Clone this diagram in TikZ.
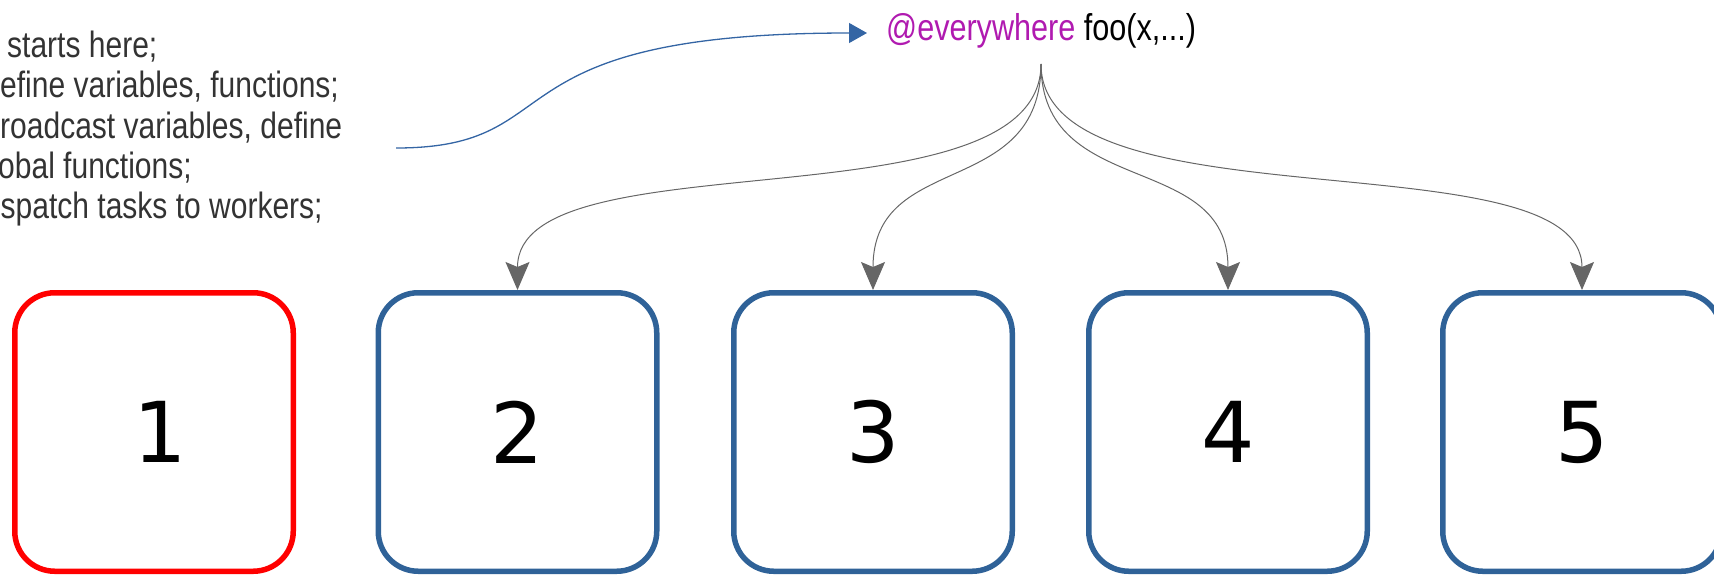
\documentclass[tikz,border=0pt]{standalone}
\usepackage{fontspec}
\usetikzlibrary{arrows.meta}
\newfontfamily\narrowsans[FakeStretch=0.82]{Liberation Sans}
\newfontfamily\digitsans{DejaVu Sans}
\definecolor{boxblue}{HTML}{2F6298}
\definecolor{lineblue}{HTML}{3465A4}
\definecolor{boxred}{HTML}{FF0000}
\definecolor{notegray}{HTML}{333333}
\definecolor{macrocol}{HTML}{B01AB0}
\definecolor{forkgray}{HTML}{666666}
\tikzset{
  worker/.style={rectangle, rounded corners=40pt, minimum width=278.5pt,
    minimum height=278.5pt, line width=5.5pt, inner sep=0pt, draw=boxblue,
    font=\digitsans\fontsize{84}{92}\selectfont},
  note/.style={anchor=base west, inner sep=0pt, text=notegray,
    font=\narrowsans\fontsize{36.6}{41}\selectfont},
  call/.style={anchor=base west, inner sep=0pt,
    font=\narrowsans\fontsize{37.3}{41}\selectfont},
  feed/.style={draw=lineblue, line width=1.3pt,
    -{Triangle[length=18pt,width=20pt]}, fill=none},
  spread/.style={draw=forkgray, line width=1pt,
    -{Stealth[length=28pt,width=24pt,inset=5pt]}}
}
\begin{document}
\begin{tikzpicture}[x=1pt,y=-1pt]
\useasboundingbox (0,0) rectangle (1714,574);

% notes on the master process
\node[note] (l1) at (7,57)   {starts here;};
\node[note] (l2) at (0,97)   {efine variables, functions;};
\node[note] (l3) at (0,138)  {roadcast variables, define};
\node[note] (l4) at (-2,178) {obal functions;};
\node[note] (l5) at (0.5,218){spatch tasks to workers;};

% the macro call
\node[call] (macro) at (886,40) {\textcolor{macrocol}{@everywhere} foo(x,...)};
\coordinate (src) at (396,148);
\coordinate (callin) at (867,33);
\draw[feed] (src) .. controls (575,148) and (480,33) .. (callin);

% the processes
\node[worker, draw=boxred] (b1) at (154,432) {\hspace{12pt}1};
\node[worker] (b2) at (517.5,432) {2};
\node[worker] (b3) at (873,432) {3};
\node[worker] (b4) at (1228,432) {4};
\node[worker] (b5) at (1582,432) {5};

% fan-out to the workers
\coordinate (fork) at (1041,64);
\draw[spread] (fork) .. controls (1041,230) and (517.5,135) .. (b2.north);
\draw[spread] (fork) .. controls (1041,200) and (873,150) .. (b3.north);
\draw[spread] (fork) .. controls (1041,200) and (1228,150) .. (b4.north);
\draw[spread] (fork) .. controls (1041,230) and (1582,135) .. (b5.north);
\end{tikzpicture}
\end{document}
